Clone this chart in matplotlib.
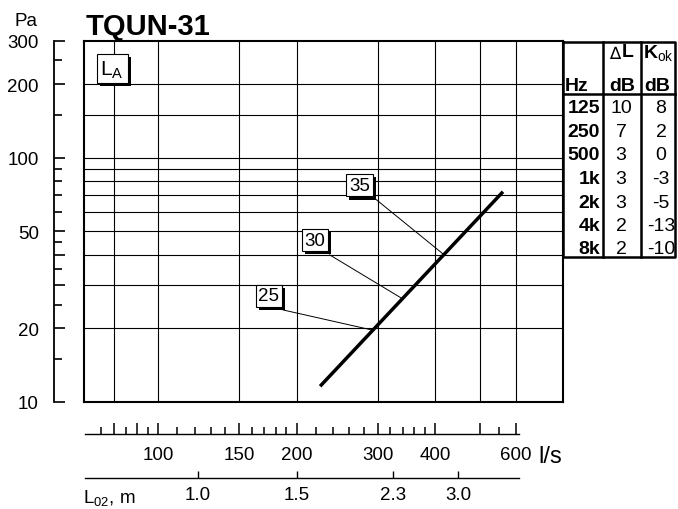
import matplotlib.pyplot as plt
import matplotlib.patheffects as pe
from matplotlib.ticker import FixedLocator, FixedFormatter, NullLocator, NullFormatter

plt.rcParams['font.family'] = ['Liberation Sans', 'DejaVu Sans']
plt.rcParams['mathtext.fontset'] = 'custom'
plt.rcParams['mathtext.rm'] = 'Liberation Sans'
plt.rcParams['mathtext.bf'] = 'Liberation Sans:bold'

# characteristic line (flow l/s, pressure Pa)
line_q = [225, 562]
line_p = [11.6, 72.5]

# NR labels and leader lines
nr_labels = ['25', '30', '35']
nr_q = [174, 219, 274]
nr_p = [27.2, 45.9, 77]
lead_q0 = [187, 236, 296]
lead_p0 = [23.8, 40, 68]
lead_q1 = [292, 337, 416]
lead_p1 = [19.7, 26.7, 40.4]

# grid
grid_q = [80, 100, 150, 200, 300, 400, 500, 600]
grid_p = [20, 30, 40, 50, 60, 70, 80, 90, 100, 150, 200]

# pressure scale
p_major = [10, 20, 30, 40, 50, 100, 200, 300]
p_major_lab = ['10', '20', '', '', '50', '100', '200', '300']
p_minor = [15, 25, 35, 45, 60, 70, 80, 90, 150, 250]

# flow ruler
q_major = [80, 90, 100, 150, 200, 300, 400, 500, 600]
q_major_lab = ['', '', '100', '150', '200', '300', '400', '', '600']
q_minor = [75, 85, 95, 110, 120, 130, 140, 160, 170, 180, 190,
           220, 240, 260, 280, 320, 340, 360, 380, 550]

# throw ruler
l02_q = [122, 200, 324, 449]
l02_lab = ['1.0', '1.5', '2.3', '3.0']

# table
hz = ['125', '250', '500', '1k', '2k', '4k', '8k']
dL = ['10', '7', '3', '3', '3', '2', '2']
kok = ['8', '2', '0', '-3', '-5', '-13', '-10']

W, H = 678, 510


def rect(x0, y0, x1, y1):
    return [x0 / W, 1 - y1 / H, (x1 - x0) / W, (y1 - y0) / H]


fig = plt.figure(figsize=(W / 100, H / 100), dpi=100)

# main plot
ax = fig.add_axes(rect(84, 42, 563, 403))
ax.set_xscale('log')
ax.set_yscale('log')
ax.set_xlim(69, 759)
ax.set_ylim(10, 300)
for a in (ax.xaxis, ax.yaxis):
    a.set_major_locator(NullLocator())
    a.set_minor_locator(NullLocator())
for v in grid_q:
    ax.axvline(v, color='k', lw=0.8)
for v in grid_p:
    ax.axhline(v, color='k', lw=0.8)
for s in ax.spines.values():
    s.set_linewidth(1.5)

ax.plot(line_q, line_p, color='k', lw=2.5, solid_capstyle='butt')

shadow = [pe.withSimplePatchShadow(offset=(2.2, -2.2), shadow_rgbFace='k', alpha=1)]
for lab, q, p, q0, p0, q1, p1 in zip(nr_labels, nr_q, nr_p, lead_q0, lead_p0, lead_q1, lead_p1):
    ax.plot([q0, q1], [p0, p1], color='k', lw=0.7)
    t = ax.text(q, p, lab, fontsize=13.5, ha='center', va='center',
                bbox=dict(boxstyle='square,pad=0.14', fc='white', ec='k', lw=0.8))
    t.get_bbox_patch().set_path_effects(shadow)

t = ax.text(79.4, 231, r'$\mathrm{L}_{\mathrm{A}}$', fontsize=15, ha='center', va='center',
            bbox=dict(boxstyle='square,pad=0.18', fc='white', ec='k', lw=0.8))
t.get_bbox_patch().set_path_effects(shadow)

# pressure axis
axy = fig.add_axes(rect(54, 42, 55, 403))
axy.set_yscale('log')
axy.set_ylim(10, 300)
axy.patch.set_visible(False)
for k in ('top', 'right', 'bottom'):
    axy.spines[k].set_visible(False)
axy.spines['left'].set_linewidth(1.3)
axy.xaxis.set_major_locator(NullLocator())
axy.xaxis.set_minor_locator(NullLocator())
axy.yaxis.set_major_locator(FixedLocator(p_major))
axy.yaxis.set_major_formatter(FixedFormatter(p_major_lab))
axy.yaxis.set_minor_locator(FixedLocator(p_minor))
axy.yaxis.set_minor_formatter(NullFormatter())
axy.tick_params(axis='y', which='major', direction='in', length=8, width=1.2,
                labelsize=13.5, pad=11)
axy.tick_params(axis='y', which='minor', direction='in', length=5.5, width=1.2)

# flow ruler
axq = fig.add_axes(rect(84, 420, 563, 435))
axq.set_xscale('log')
axq.set_xlim(69, 759)
axq.patch.set_visible(False)
for k in ('top', 'right', 'left'):
    axq.spines[k].set_visible(False)
axq.spines['bottom'].set_bounds(69.5, 610)
axq.spines['bottom'].set_linewidth(1.0)
axq.yaxis.set_major_locator(NullLocator())
axq.xaxis.set_major_locator(FixedLocator(q_major))
axq.xaxis.set_major_formatter(FixedFormatter(q_major_lab))
axq.xaxis.set_minor_locator(FixedLocator(q_minor))
axq.xaxis.set_minor_formatter(NullFormatter())
axq.tick_params(axis='x', which='major', direction='in', length=8, width=1.1,
                labelsize=13.5, pad=9)
axq.tick_params(axis='x', which='minor', direction='in', length=5, width=1.1)

# throw ruler
axl = fig.add_axes(rect(84, 470, 563, 479))
axl.set_xscale('log')
axl.set_xlim(69, 759)
axl.patch.set_visible(False)
for k in ('top', 'right', 'left'):
    axl.spines[k].set_visible(False)
axl.spines['bottom'].set_bounds(69.5, 610)
axl.spines['bottom'].set_linewidth(1.0)
axl.yaxis.set_major_locator(NullLocator())
axl.xaxis.set_major_locator(FixedLocator(l02_q))
axl.xaxis.set_major_formatter(FixedFormatter(l02_lab))
axl.xaxis.set_minor_locator(NullLocator())
axl.tick_params(axis='x', which='major', direction='in', length=5, width=1.0,
                labelsize=13.5, pad=6)

# table
axt = fig.add_axes(rect(563, 43, 675, 258))
axt.set_xlim(563, 675)
axt.set_ylim(258, 43)
axt.axis('off')
axt.plot([563, 675, 675, 563, 563], [43, 43, 258, 258, 43], color='k', lw=1.8, clip_on=False)
axt.plot([603, 603], [43, 258], color='k', lw=1.8, clip_on=False)
axt.plot([641, 641], [43, 258], color='k', lw=1.8, clip_on=False)
axt.plot([563, 675], [95, 95], color='k', lw=1.8, clip_on=False)

axt.text(615, 54, '\u2206', fontsize=12, ha='center', va='center', family='DejaVu Sans')
axt.text(628, 53, 'L', fontsize=14, fontweight='bold', ha='center', va='center')
axt.text(643, 54, r'$\mathbf{K}_{\mathrm{ok}}$', fontsize=14, ha='left', va='center')
axt.text(565, 87, 'Hz', fontsize=14, fontweight='bold', ha='left', va='center')
axt.text(622, 87, 'dB', fontsize=14, fontweight='bold', ha='center', va='center')
axt.text(657, 87, 'dB', fontsize=14, fontweight='bold', ha='center', va='center')
for i, (h, d, k) in enumerate(zip(hz, dL, kok)):
    y = 109 + i * 23.5
    axt.text(600, y, h, fontsize=14, fontweight='bold', ha='right', va='center')
    axt.text(621, y, d, fontsize=14, ha='center', va='center')
    axt.text(661, y, k, fontsize=14, ha='center', va='center')

# labels
fig.text(86 / W, 1 - 35 / H, 'TQUN-31', fontsize=21, fontweight='bold', va='baseline')
fig.text(26 / W, 1 - 21 / H, 'Pa', fontsize=13.5, ha='center', va='center')
fig.text(538 / W, 1 - 457 / H, 'l/s', fontsize=17, ha='left', va='center')
fig.text(83 / W, 1 - 499 / H, r'$\mathrm{L}_{\mathrm{02}}$, m', fontsize=13.5,
         ha='left', va='center')

fig.savefig('out.png', dpi=100)
